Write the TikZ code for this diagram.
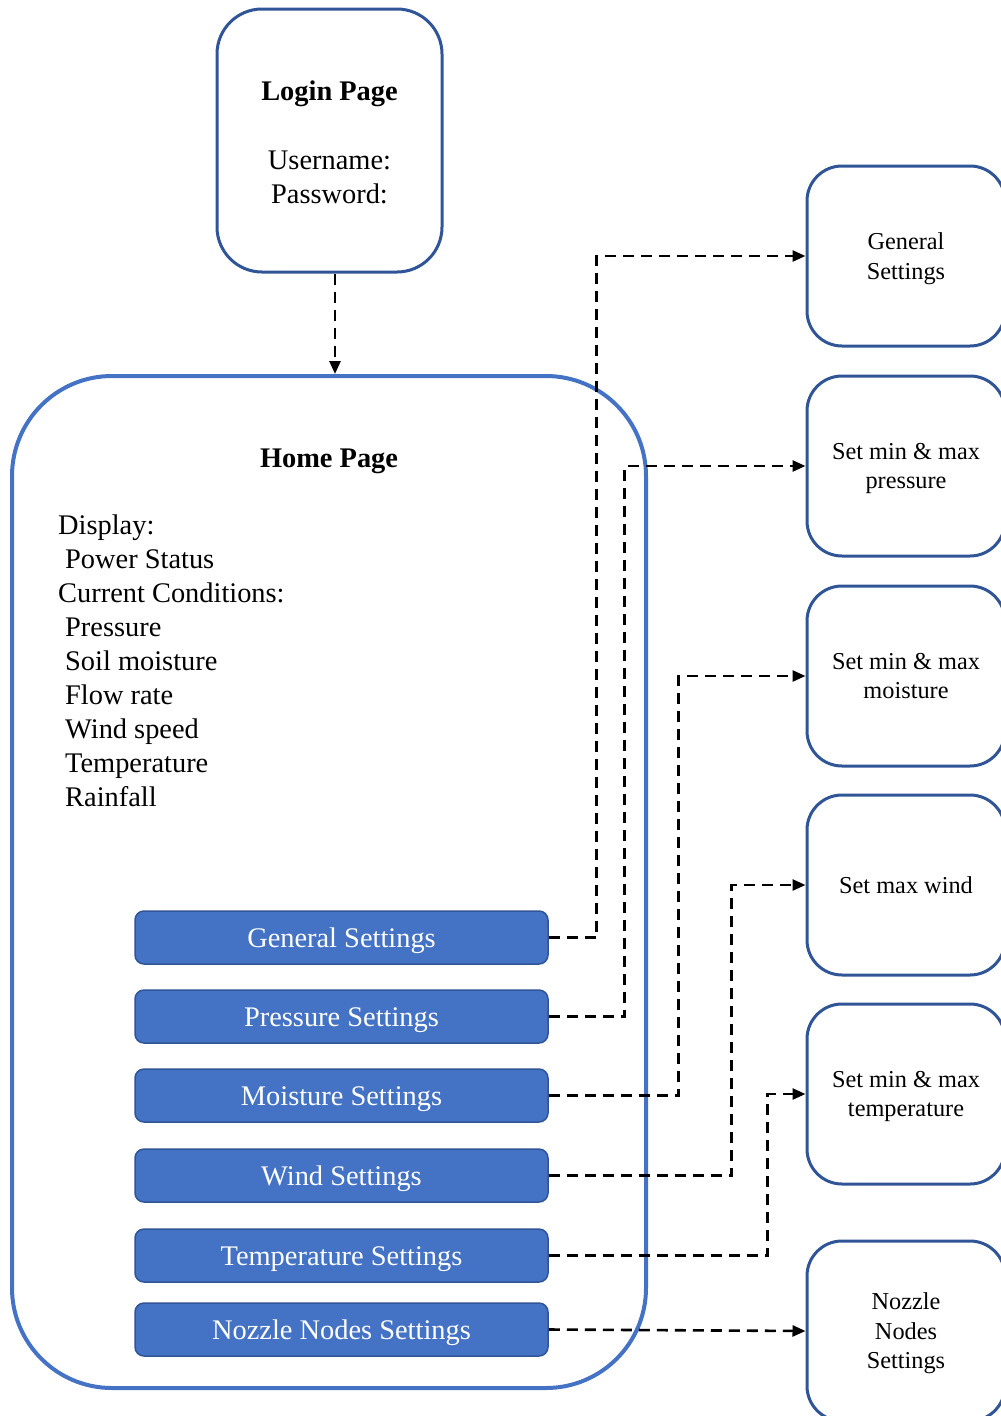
\documentclass[tikz,border=0pt]{standalone}
\usepackage{fontspec}
\setmainfont{Liberation Serif}
\usetikzlibrary{arrows.meta,positioning}
\definecolor{frameblue}{HTML}{2F5597}
\definecolor{homeblue}{HTML}{4472C4}
\begin{document}
\begin{tikzpicture}[x=1pt,y=-1pt,
  pagebox/.style={draw=frameblue,line width=3pt,rounded corners=45pt,
    minimum width=225pt,minimum height=263pt,inner sep=0pt},
  homebox/.style={draw=homeblue,line width=4pt,rounded corners=100pt,
    minimum width=634pt,minimum height=1012pt,inner sep=0pt},
  btn/.style={draw=frameblue,line width=1.5pt,fill=homeblue,rounded corners=9pt,
    minimum width=413pt,minimum height=53pt,inner sep=0pt,text=white,
    text height=20pt,text depth=0pt,
    font=\fontsize{28.4}{34}\selectfont},
  setbox/.style={draw=frameblue,line width=3pt,rounded corners=35pt,
    minimum width=198pt,minimum height=180pt,inner sep=0pt,align=center,
    text depth=0pt,font=\fontsize{24.3}{29.5}\selectfont},
  bigtext/.style={font=\fontsize{28.4}{34}\selectfont,inner sep=0pt},
  boldtext/.style={font=\fontsize{28.4}{34}\selectfont\bfseries,inner sep=0pt},
  conn/.style={line width=2.6pt,dash pattern=on 11pt off 7pt,
    -{Triangle[length=13pt,width=11pt]}}]
\clip (0,0) rectangle (1001,1416);
\useasboundingbox (0,0) rectangle (1001,1416);

% login page
\node[pagebox] (login) at (329.5,140.5) {};
\node[boldtext] (logintitle) at (329.5,94) {Login Page};
\node[bigtext,align=center] (loginfields) at (329.5,177) {Username:\\Password:};

% home page
\node[homebox] (home) at (329,882) {};
\node[boldtext] (hometitle) at (329,461) {Home Page};
\node[bigtext,align=left,anchor=north west] (homelist) at (58,515)
  {Display:\\
   \hspace*{7pt}Power Status\\
   Current Conditions:\\
   \hspace*{7pt}Pressure\\
   \hspace*{7pt}Soil moisture\\
   \hspace*{7pt}Flow rate\\
   \hspace*{7pt}Wind speed\\
   \hspace*{7pt}Temperature\\
   \hspace*{7pt}Rainfall};

% settings buttons
\node[btn] (bgen)   at (341.5,937.5)  {General Settings};
\node[btn] (bpress) at (341.5,1016.5) {Pressure Settings};
\node[btn] (bmoist) at (341.5,1095.5) {Moisture Settings};
\node[btn] (bwind)  at (341.5,1175.5) {Wind Settings};
\node[btn] (btemp)  at (341.5,1255.5) {Temperature Settings};
\node[btn] (bnoz)   at (341.5,1329.5) {Nozzle Nodes Settings};

% settings pages
\node[setbox] (rgen)   at (906,256)  {General\\Settings};
\node[setbox] (rpress) at (906,466)  {Set min \& max\\pressure};
\node[setbox] (rmoist) at (906,676)  {Set min \& max\\moisture};
\node[setbox] (rwind)  at (906,885)  {Set max wind};
\node[setbox] (rtemp)  at (906,1094) {Set min \& max\\temperature};
\node[setbox] (rnoz)   at (906,1331) {Nozzle\\Nodes\\Settings};

% navigation links
\draw[conn] ([xshift=5.5pt]login.south) -- ([xshift=6pt]home.north);
\draw[conn] (bgen.east)   -- ++(48,0)  |- (rgen.west);
\draw[conn] (bpress.east) -- ++(76,0)  |- (rpress.west);
\draw[conn] (bmoist.east) -- ++(130,0) |- (rmoist.west);
\draw[conn] (bwind.east)  -- ++(183,0) |- (rwind.west);
\draw[conn] (btemp.east)  -- ++(219,0) |- (rtemp.west);
\draw[conn] (bnoz.east)   -- (rnoz.west);
\end{tikzpicture}
\end{document}
